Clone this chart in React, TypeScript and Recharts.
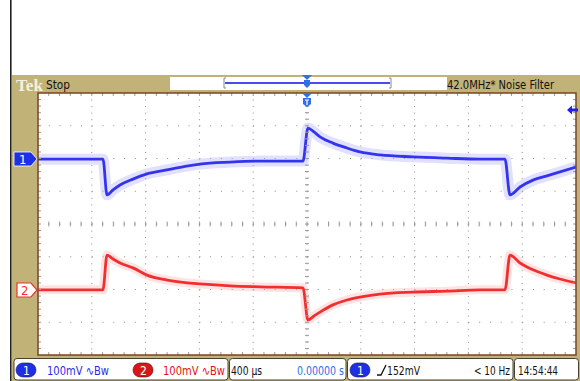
import React from 'react';
import { ComposedChart, Line, XAxis, YAxis, CartesianGrid } from 'recharts';

// time in microseconds (400 us / div, 10 divisions)
const timeUs = [-2000, -1517, -1487, -1442, -1390, -1294, -1190, -1041, -907, -796, -572, -349, -30, 7, 52, 97, 193, 297, 394, 543, 788, 1041, 1286, 1472, 1509, 1584, 1680, 1784, 1881, 2000];
// channel 1 (blue), screen mV (100 mV / div)
const ch1mV = [198, 198, 89, 104, 119, 137, 153, 165, 176, 183, 189, 192, 192, 293, 281, 266, 247, 232, 220, 211, 205, 201, 198, 198, 89, 113, 134, 147, 159, 174];
// channel 2 (red), screen mV
const ch2mV = [-201, -201, -95, -107, -119, -134, -156, -171, -179, -183, -189, -192, -195, -293, -281, -269, -247, -232, -223, -214, -208, -205, -201, -201, -95, -119, -140, -156, -168, -180];

const xTicks = [-2000, -1600, -1200, -800, -400, 0, 400, 800, 1200, 1600, 2000];
const yTicks = [-400, -300, -200, -100, 0, 100, 200, 300, 400];

const data = timeUs.map((t, i) => ({ t, ch1: ch1mV[i], ch2: ch2mV[i] }));

const TAN = '#c1b377';
const BLUE = '#3434ee';
const RED = '#f03030';
const NARROW = '"Liberation Sans Narrow", "Arial Narrow", "DejaVu Sans Condensed", sans-serif';

const PL = 38, PR = 576, PT = 93, PB = 355;
const PW = PR - PL, PH = PB - PT;
const CX = PL + PW / 2, CY = PT + PH / 2;

function Overlay() {
  const ticks: React.ReactNode[] = [];
  const tc = '#9a9a9a';
  for (let i = 1; i < 50; i++) {
    const x = PL + (i * PW) / 50;
    ticks.push(<line key={'b' + i} x1={x} x2={x} y1={PB} y2={PB - 3} stroke={tc} strokeWidth={1} />);
    ticks.push(<line key={'t' + i} x1={x} x2={x} y1={PT} y2={PT + 3} stroke={tc} strokeWidth={1} />);
    ticks.push(<line key={'c' + i} x1={x} x2={x} y1={CY - 2.5} y2={CY + 2.5} stroke={tc} strokeWidth={1} />);
  }
  for (let i = 1; i < 40; i++) {
    const y = PT + (i * PH) / 40;
    ticks.push(<line key={'l' + i} x1={PL} x2={PL + 3} y1={y} y2={y} stroke={tc} strokeWidth={1} />);
    ticks.push(<line key={'r' + i} x1={PR} x2={PR - 3} y1={y} y2={y} stroke={tc} strokeWidth={1} />);
    ticks.push(<line key={'v' + i} x1={CX - 2} x2={CX + 2} y1={y} y2={y} stroke={tc} strokeWidth={1} />);
  }
  const txt = (x: number, y: number, s: string, w: number, fill: string, size = 12) => (
    <text x={x} y={y} fontFamily={NARROW} fontSize={size} fill={fill} textLength={w} lengthAdjust="spacingAndGlyphs">{s}</text>
  );
  return (
    <svg width={580} height={381} style={{ position: 'absolute', left: 0, top: 0, pointerEvents: 'none' }}>
      {/* frame */}
      <rect x={10} y={0} width={1.6} height={381} fill="#222" />
      <rect x={12} y={75} width={568} height={18} fill={TAN} />
      <rect x={12} y={75} width={26} height={306} fill={TAN} />
      <rect x={576} y={75} width={4} height={306} fill={TAN} />
      <rect x={12} y={355} width={568} height={26} fill={TAN} />
      {ticks}
      <rect x={PL} y={PT} width={PW} height={PH} fill="none" stroke="#7a4426" strokeWidth={1.5} />
      {/* header */}
      <text x={16} y={91} fontFamily='"Liberation Serif", serif' fontWeight="bold" fontSize={17} fill="#f6f1de" textLength={27} lengthAdjust="spacingAndGlyphs">Tek</text>
      {txt(46, 89, 'Stop', 24, '#111')}
      <rect x={170} y={77} width={277} height={13} fill="#fff" />
      <line x1={225} x2={390} y1={83} y2={83} stroke="#4a4af5" strokeWidth={2} />
      <path d="M226 78 L224 78 L224 88 L226 88" fill="none" stroke="#7a8a9a" strokeWidth={1} />
      <path d="M389 78 L391 78 L391 88 L389 88" fill="none" stroke="#7a8a9a" strokeWidth={1} />
      {txt(447, 89, '42.0MHz* Noise Filter', 107, '#111')}
      {/* trigger position markers */}
      <polygon points="302,75 312,75 307,80" fill="#2f6fe8" />
      <polygon points="304,80 310,80 310,85 307,88 304,85" fill="#2f6fe8" />
      <polygon points="302,93 312,93 307,98" fill="#2f6fe8" />
      <polygon points="303,98 311,98 311,104 307,107 303,104" fill="#2f6fe8" />
      <path d="M305 100 L309 100 M307 100 L307 105" stroke="#fff" strokeWidth={1.2} />
      {/* trigger level arrow */}
      <polygon points="567,110 572,105.5 572,108.5 578,108.5 578,111.5 572,111.5 572,114.5" fill="#2020ee" />
      {/* channel markers */}
      <polygon points="14,152 31,152 37,159 31,166 14,166" fill="#1f2fe8" stroke="#fff" strokeWidth={0.8} />
      <text x={19} y={164} fontFamily={NARROW} fontSize={13} fill="#fff">1</text>
      <polygon points="17,283 31,283 37,290 31,297 17,297" fill="#fff" stroke={RED} strokeWidth={1.2} />
      <text x={21} y={295} fontFamily={NARROW} fontSize={13} fill={RED}>2</text>
      {/* status bar */}
      <rect x={14} y={358.5} width={214} height={21.5} rx={3} fill="#fff" stroke="#4a4030" strokeWidth={1} />
      <rect x={229.5} y={358.5} width={116.5} height={21.5} rx={3} fill="#fff" stroke="#4a4030" strokeWidth={1} />
      <rect x={347.5} y={358.5} width={165.5} height={21.5} rx={3} fill="#fff" stroke="#4a4030" strokeWidth={1} />
      <rect x={514.5} y={358.5} width={64} height={21.5} rx={3} fill="#fff" stroke="#4a4030" strokeWidth={1} />
      <rect x={16} y={363} width={20} height={14} rx={7} fill="#1f2fe8" stroke="#101060" strokeWidth={0.6} />
      <text x={23} y={375} fontFamily={NARROW} fontSize={12} fill="#fff">1</text>
      {txt(47, 375, '100mV ∿Bw', 62, '#2a2aee', 12)}
      <rect x={133} y={363} width={20} height={14} rx={7} fill="#d41818" stroke="#600" strokeWidth={0.6} />
      <text x={140} y={375} fontFamily={NARROW} fontSize={12} fill="#fff">2</text>
      {txt(163, 375, '100mV ∿Bw', 62, '#e81010', 12)}
      {txt(231, 375, '400 µs', 31, '#111', 12)}
      {txt(297, 375, '0.00000 s', 47, '#2f6fe8', 12)}
      <rect x={350} y={363} width={20} height={14} rx={7} fill="#1f2fe8" stroke="#101060" strokeWidth={0.6} />
      <text x={357} y={375} fontFamily={NARROW} fontSize={12} fill="#fff">1</text>
      <path d="M377 375 L381 375 L386 365" fill="none" stroke="#111" strokeWidth={1.3} />
      {txt(387, 375, '152mV', 33, '#111', 12)}
      {txt(474, 375, '< 10 Hz', 36, '#111', 12)}
      {txt(518, 375, '14:54:44', 40, '#111', 12)}
    </svg>
  );
}

export default function App() {
  return (
    <div style={{ position: 'absolute', left: 0, top: 0, width: 580, height: 381, background: '#fff' }}>
      <ComposedChart width={580} height={381} data={data} margin={{ top: PT, right: 580 - PR, bottom: 381 - PB, left: PL }}>
        <XAxis type="number" dataKey="t" domain={[-2000, 2000]} ticks={xTicks} hide allowDataOverflow />
        <YAxis type="number" domain={[-400, 400]} ticks={yTicks} hide allowDataOverflow />
        <CartesianGrid horizontal={true} vertical={false} stroke="#8c8c8c" strokeDasharray="1 9.76" />
        <CartesianGrid horizontal={false} vertical={true} stroke="#8c8c8c" strokeDasharray="1 5.55" />
        <Line dataKey="ch1" type="monotoneX" stroke="#b4b4ff" strokeOpacity={0.4} strokeWidth={11} dot={false} isAnimationActive={false} />
        <Line dataKey="ch1" type="monotoneX" stroke={BLUE} strokeWidth={2.8} dot={false} isAnimationActive={false} />
        <Line dataKey="ch2" type="monotoneX" stroke="#ffb0b0" strokeOpacity={0.35} strokeWidth={9} dot={false} isAnimationActive={false} />
        <Line dataKey="ch2" type="monotoneX" stroke={RED} strokeWidth={2.8} dot={false} isAnimationActive={false} />
      </ComposedChart>
      <Overlay />
    </div>
  );
}
